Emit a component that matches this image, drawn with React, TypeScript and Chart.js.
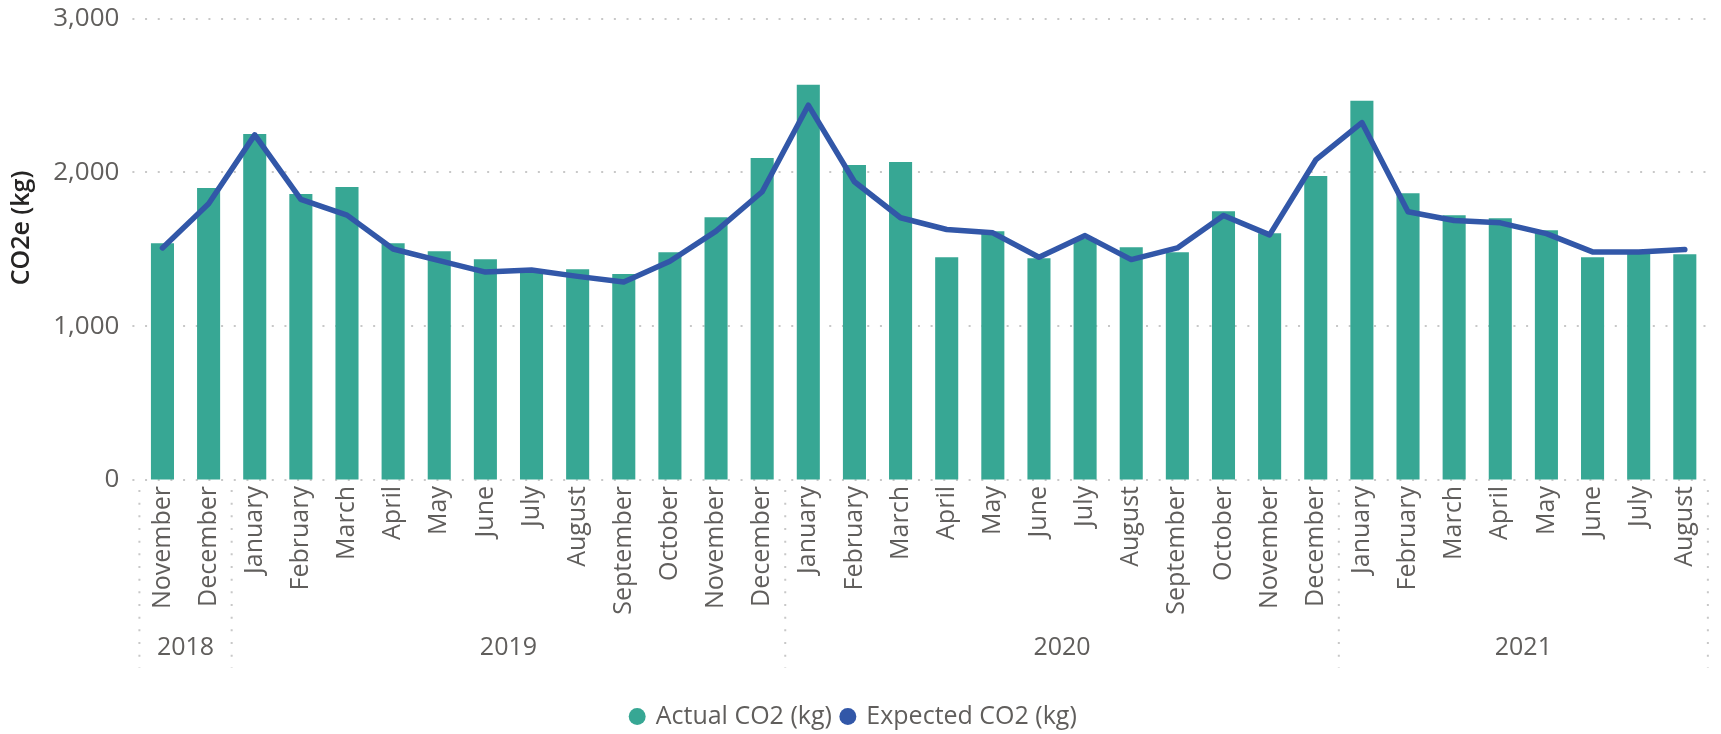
import React, { useEffect, useRef } from 'react';
import { Chart, registerables } from 'chart.js';

Chart.register(...registerables);

const months = [
  'November', 'December',
  'January', 'February', 'March', 'April', 'May', 'June', 'July', 'August', 'September', 'October', 'November', 'December',
  'January', 'February', 'March', 'April', 'May', 'June', 'July', 'August', 'September', 'October', 'November', 'December',
  'January', 'February', 'March', 'April', 'May', 'June', 'July', 'August',
];
const years = ['2018', '2019', '2020', '2021'];
const monthsPerYear = [2, 12, 12, 8];

const actualCO2 = [
  1539, 1898,
  2250, 1859, 1905, 1539, 1487, 1435, 1361, 1370, 1339, 1481, 1709, 2094,
  2570, 2048, 2068, 1448, 1618, 1442, 1569, 1513, 1481, 1748, 1605, 1976,
  2466, 1865, 1722, 1702, 1624, 1448, 1474, 1468,
];
const expectedCO2 = [
  1509, 1796,
  2244, 1824, 1722, 1502, 1426, 1352, 1366, 1324, 1287, 1422, 1618, 1874,
  2437, 1939, 1705, 1629, 1607, 1448, 1589, 1433, 1509, 1720, 1594, 2081,
  2324, 1744, 1687, 1672, 1602, 1483, 1483, 1498,
];
const yTickValues = [0, 1000, 2000, 3000];

const FONT = "'Open Sans', 'Noto Sans', sans-serif";
const GREY = '#605E5C';
const BAR = '#37A794';
const LINE = '#3257A8';
const GRID = '#C8C8C8';
const DOTS = [2, 10.67];

const gridPlugin = {
  id: 'dottedGrid',
  beforeDatasetsDraw(chart: any) {
    const y = chart.scales.y;
    const area = chart.chartArea;
    const ctx = chart.ctx;
    ctx.save();
    ctx.strokeStyle = GRID;
    ctx.lineWidth = 2;
    ctx.setLineDash(DOTS);
    yTickValues.forEach((v) => {
      const py = Math.round(y.getPixelForValue(v));
      ctx.beginPath();
      ctx.moveTo(area.left - 7, py);
      ctx.lineTo(area.right + 4, py);
      ctx.stroke();
    });
    ctx.restore();
  },
};

const yearGroupsPlugin = {
  id: 'yearGroups',
  afterDraw(chart: any) {
    const x = chart.scales.x;
    const area = chart.chartArea;
    const ctx = chart.ctx;
    const step = x.getPixelForValue(1) - x.getPixelForValue(0);
    const top = area.bottom + 10;
    const bottom = 668;
    ctx.save();
    ctx.strokeStyle = GRID;
    ctx.lineWidth = 2;
    let start = 0;
    const drawSep = (px: number) => {
      ctx.setLineDash(DOTS);
      ctx.beginPath();
      ctx.moveTo(px, top);
      ctx.lineTo(px, bottom);
      ctx.stroke();
      ctx.setLineDash([]);
    };
    drawSep(x.getPixelForValue(0) - step / 2);
    ctx.fillStyle = GREY;
    ctx.font = `25px ${FONT}`;
    ctx.textAlign = 'center';
    ctx.textBaseline = 'middle';
    years.forEach((yr, i) => {
      const n = monthsPerYear[i];
      const left = x.getPixelForValue(start) - step / 2;
      const right = x.getPixelForValue(start + n - 1) + step / 2;
      ctx.fillText(yr, (left + right) / 2, 648);
      drawSep(right);
      start += n;
    });
    ctx.restore();
  },
};

const yTitlePlugin = {
  id: 'yTitle',
  afterDraw(chart: any) {
    const ctx = chart.ctx;
    ctx.save();
    ctx.translate(22, 228);
    ctx.rotate(-Math.PI / 2);
    ctx.font = `600 25px ${FONT}`;
    ctx.fillStyle = '#252423';
    ctx.textAlign = 'center';
    ctx.textBaseline = 'middle';
    ctx.fillText('CO2e (kg)', 0, 0);
    ctx.restore();
  },
};

export default function App() {
  const ref = useRef<HTMLCanvasElement | null>(null);

  useEffect(() => {
    document.body.style.margin = '0';
    if (!ref.current) return;
    const chart = new Chart(ref.current, {
      type: 'bar',
      data: {
        labels: months,
        datasets: [
          {
            type: 'bar',
            label: 'Actual CO2 (kg)',
            data: actualCO2,
            backgroundColor: BAR,
            borderWidth: 0,
            barPercentage: 0.5,
            categoryPercentage: 1,
            order: 1,
          },
          {
            type: 'line',
            label: 'Expected CO2 (kg)',
            data: expectedCO2,
            borderColor: LINE,
            backgroundColor: LINE,
            borderWidth: 5.5,
            pointRadius: 0,
            tension: 0,
            borderJoinStyle: 'round',
            borderCapStyle: 'round',
            order: 0,
          } as any,
        ],
      },
      options: {
        animation: false,
        responsive: true,
        maintainAspectRatio: false,
        layout: { padding: { left: 0, right: 13, top: 0, bottom: -5 } },
        plugins: {
          tooltip: { enabled: false },
          legend: {
            position: 'bottom',
            labels: {
              usePointStyle: true,
              pointStyle: 'circle',
              boxWidth: 12,
              boxHeight: 12,
              padding: 10,
              color: GREY,
              font: { family: FONT, size: 25 },
              sort: (a: any, b: any) => a.datasetIndex - b.datasetIndex,
              generateLabels: (c: any) =>
                (Chart.defaults.plugins.legend.labels as any)
                  .generateLabels(c)
                  .map((l: any) => ({ ...l, lineWidth: 0 })),
            },
          },
        },
        scales: {
          x: {
            grid: { display: false, drawTicks: false },
            border: { display: false },
            ticks: {
              autoSkip: false,
              maxRotation: 90,
              minRotation: 90,
              padding: 6,
              color: GREY,
              font: { family: FONT, size: 25 },
            },
            afterFit: (s: any) => {
              s.height = 214;
            },
          },
          y: {
            min: 0,
            max: 3000,
            afterBuildTicks: (s: any) => {
              s.ticks = yTickValues.map((v) => ({ value: v }));
            },
            ticks: {
              padding: 3,
              color: GREY,
              font: { family: FONT, size: 26 },
              callback: (v: any) => Number(v).toLocaleString('en-US'),
            },
            grid: {
              color: 'rgba(0,0,0,0)',
              drawTicks: true,
              tickLength: 17,
              tickColor: 'rgba(0,0,0,0)',
            },
            border: { display: false },
            afterFit: (s: any) => {
              s.width = 139.4;
            },
          },
        },
      },
      plugins: [gridPlugin, yearGroupsPlugin, yTitlePlugin],
    });
    return () => chart.destroy();
  }, []);

  return (
    <div style={{ width: 1721, height: 734, position: 'relative' }}>
      <canvas ref={ref} />
    </div>
  );
}
